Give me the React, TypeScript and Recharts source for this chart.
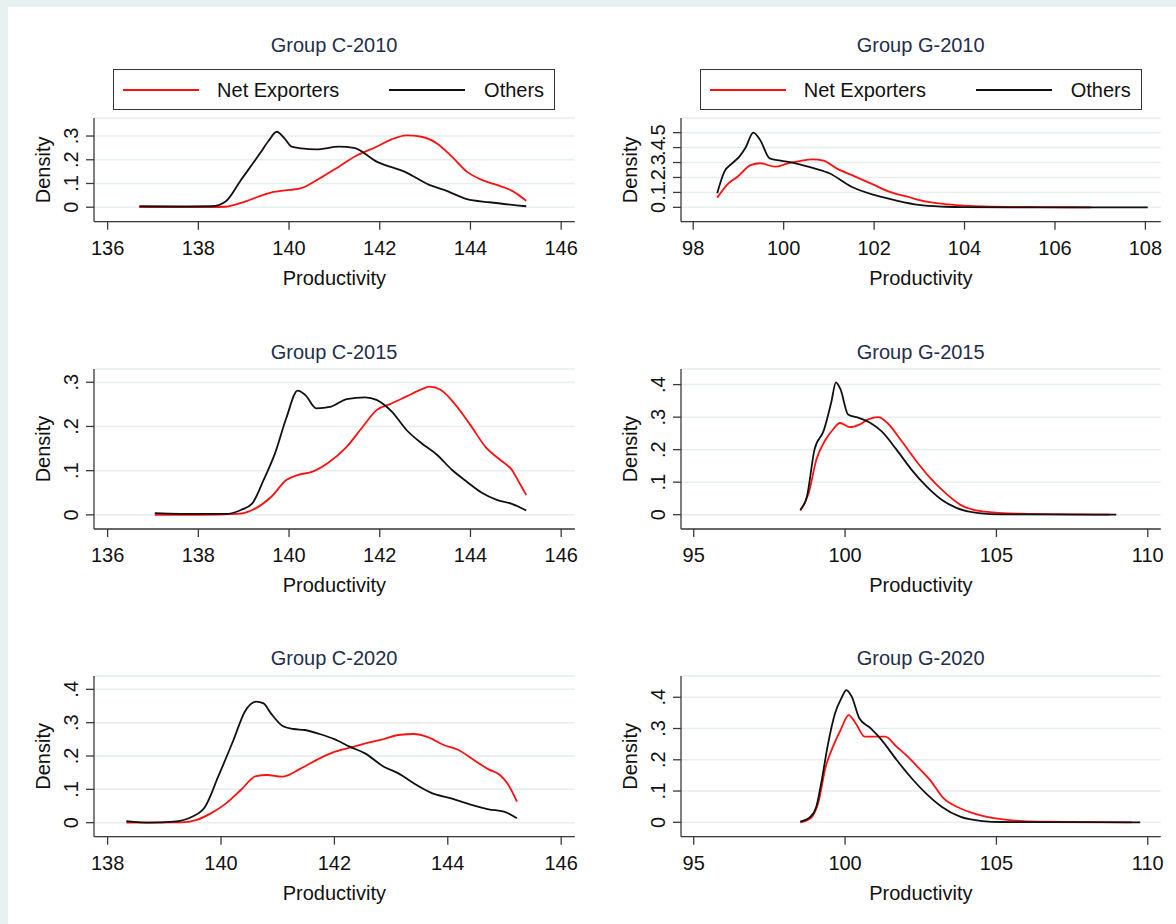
import { LineChart, Line, XAxis, YAxis, CartesianGrid } from "recharts";

type Pt = [number, number];

const FONT = "'Liberation Sans', Arial, Helvetica, sans-serif";
const RED = "#ff1010";
const BLACK = "#111111";
const TITLE_COLOR = "#1f2e4c";
const AXIS_COLOR = "#3a3a3a";
const GRID_COLOR = "#e6eef0";

const SERIES_NAMES = ["Net Exporters", "Others"];

// Group C-2010
const c2010Net: Pt[] = [
  [136.7, 0.001], [137.5, 0.0], [138.3, 0.0], [138.6, 0.002], [139.03, 0.024], [139.6, 0.062],
  [140.02, 0.073], [140.27, 0.08], [140.68, 0.122], [141.1, 0.171], [141.51, 0.22], [141.93, 0.255],
  [142.26, 0.286], [142.59, 0.303], [142.92, 0.297], [143.26, 0.269], [143.59, 0.213], [143.92, 0.15],
  [144.25, 0.115], [144.58, 0.094], [144.91, 0.07], [145.23, 0.027],
];
const c2010Others: Pt[] = [
  [136.7, 0.004], [137.5, 0.003], [138.3, 0.004], [138.6, 0.024], [138.94, 0.115], [139.36, 0.227],
  [139.55, 0.28], [139.73, 0.318], [139.9, 0.29], [140.06, 0.255], [140.27, 0.248], [140.6, 0.244],
  [141.1, 0.255], [141.43, 0.25], [141.93, 0.192], [142.59, 0.146], [143.09, 0.094], [143.42, 0.073],
  [143.92, 0.034], [144.42, 0.021], [145.23, 0.004],
];

// Group G-2010
const g2010Net: Pt[] = [
  [98.53, 0.065], [98.78, 0.161], [98.98, 0.205], [99.27, 0.283], [99.48, 0.295], [99.81, 0.272],
  [100.1, 0.295], [100.35, 0.31], [100.64, 0.321], [100.88, 0.313], [101.17, 0.261], [101.5, 0.217],
  [102.0, 0.15], [102.33, 0.105], [102.74, 0.071], [103.16, 0.038], [103.65, 0.02], [104.4, 0.007],
  [105.64, 0.002], [106.8, 0.0],
];
const g2010Others: Pt[] = [
  [98.53, 0.094], [98.69, 0.239], [98.86, 0.295], [99.02, 0.339], [99.15, 0.395], [99.33, 0.5],
  [99.48, 0.451], [99.69, 0.328], [99.93, 0.313], [100.26, 0.295], [100.68, 0.261], [101.01, 0.228],
  [101.5, 0.138], [102.0, 0.083], [102.5, 0.045], [102.99, 0.016], [103.57, 0.004], [103.98, 0.001],
  [105.0, 0.0], [106.5, 0.0], [108.05, 0.0],
];

// Group C-2015
const c2015Net: Pt[] = [
  [137.04, 0.0], [138.0, 0.0], [138.86, 0.002], [139.19, 0.011], [139.61, 0.041], [139.94, 0.079],
  [140.19, 0.09], [140.52, 0.098], [140.85, 0.117], [141.27, 0.154], [141.6, 0.196], [141.93, 0.237],
  [142.26, 0.252], [142.59, 0.268], [142.92, 0.284], [143.09, 0.29], [143.34, 0.283], [143.67, 0.249],
  [144.0, 0.203], [144.33, 0.154], [144.66, 0.124], [144.91, 0.102], [145.08, 0.072], [145.23, 0.045],
];
const c2015Others: Pt[] = [
  [137.04, 0.004], [138.0, 0.002], [138.6, 0.002], [138.94, 0.011], [139.19, 0.026], [139.44, 0.079],
  [139.69, 0.139], [139.94, 0.219], [140.19, 0.281], [140.36, 0.271], [140.6, 0.241], [140.93, 0.245],
  [141.27, 0.262], [141.68, 0.266], [141.93, 0.26], [142.26, 0.234], [142.59, 0.192], [142.92, 0.162],
  [143.26, 0.136], [143.59, 0.102], [143.92, 0.075], [144.25, 0.05], [144.58, 0.034], [144.91, 0.025],
  [145.23, 0.01],
];

// Group G-2015
const g2015Net: Pt[] = [
  [98.52, 0.013], [98.8, 0.067], [99.05, 0.169], [99.36, 0.231], [99.6, 0.262], [99.83, 0.282],
  [100.16, 0.269], [100.47, 0.277], [100.78, 0.294], [101.09, 0.3], [101.4, 0.282], [101.83, 0.231],
  [102.32, 0.169], [102.81, 0.113], [103.31, 0.067], [103.8, 0.031], [104.54, 0.01], [105.78, 0.003],
  [108.74, 0.0],
];
const g2015Others: Pt[] = [
  [98.52, 0.015], [98.74, 0.056], [98.99, 0.2], [99.3, 0.26], [99.54, 0.344], [99.7, 0.407],
  [99.85, 0.385], [100.1, 0.308], [100.47, 0.297], [100.84, 0.282], [101.21, 0.256], [101.7, 0.2],
  [102.2, 0.138], [102.69, 0.087], [103.19, 0.046], [103.68, 0.021], [104.42, 0.005], [105.16, 0.001],
  [108.96, 0.0],
];

// Group C-2020
const c2020Net: Pt[] = [
  [138.33, 0.0], [139.29, 0.001], [139.56, 0.008], [139.82, 0.028], [140.09, 0.058], [140.35, 0.098],
  [140.62, 0.14], [140.81, 0.143], [141.08, 0.138], [141.41, 0.163], [141.74, 0.193], [142.01, 0.213],
  [142.34, 0.228], [142.6, 0.24], [142.87, 0.251], [143.13, 0.263], [143.4, 0.266], [143.66, 0.256],
  [143.93, 0.233], [144.19, 0.218], [144.46, 0.188], [144.72, 0.16], [144.92, 0.143], [145.05, 0.118],
  [145.22, 0.063],
];
const c2020Others: Pt[] = [
  [138.33, 0.005], [138.76, 0.0], [139.16, 0.003], [139.49, 0.018], [139.72, 0.048], [139.95, 0.138],
  [140.22, 0.248], [140.42, 0.333], [140.62, 0.363], [140.75, 0.358], [140.88, 0.328], [141.08, 0.291],
  [141.28, 0.281], [141.48, 0.278], [141.74, 0.266], [142.01, 0.25], [142.27, 0.228], [142.54, 0.208],
  [142.87, 0.168], [143.13, 0.148], [143.4, 0.118], [143.73, 0.088], [144.06, 0.073], [144.39, 0.055],
  [144.72, 0.04], [144.99, 0.033], [145.22, 0.013],
];

// Group G-2020
const g2020Net: Pt[] = [
  [98.52, 0.0], [98.86, 0.013], [99.11, 0.061], [99.36, 0.178], [99.6, 0.242], [99.85, 0.295],
  [100.12, 0.343], [100.35, 0.317], [100.65, 0.274], [100.96, 0.274], [101.33, 0.274], [101.7, 0.242],
  [102.07, 0.21], [102.44, 0.173], [102.81, 0.135], [103.25, 0.077], [103.8, 0.045], [104.3, 0.027],
  [105.16, 0.01], [106.4, 0.002], [109.48, 0.0],
];
const g2020Others: Pt[] = [
  [98.52, 0.002], [98.86, 0.018], [99.05, 0.05], [99.23, 0.135], [99.42, 0.242], [99.67, 0.349],
  [99.88, 0.397], [100.04, 0.423], [100.22, 0.402], [100.47, 0.333], [100.84, 0.301], [101.21, 0.263],
  [101.7, 0.2], [102.2, 0.141], [102.69, 0.091], [103.19, 0.05], [103.8, 0.018], [104.54, 0.004],
  [105.16, 0.001], [109.75, 0.0],
];

// ticks
const xTicksC = [136, 138, 140, 142, 144, 146];
const xTicksC2020 = [138, 140, 142, 144, 146];
const xTicksG2010 = [98, 100, 102, 104, 106, 108];
const xTicksG = [95, 100, 105, 110];
const yTicks3 = [0, 0.1, 0.2, 0.3];
const yTicks4 = [0, 0.1, 0.2, 0.3, 0.4];
const yTicks5 = [0, 0.1, 0.2, 0.3, 0.4, 0.5];

const toRows = (pts: Pt[]) => pts.map(([x, y]) => ({ x, y }));
const fmtY = (v: number) => (v === 0 ? "0" : String(v).replace(/^0/, ""));

const YW = 80;
const XH = 75;
const MT = 10;
const MR = 24;

const XTick = (props: any) => {
  const { x, y, payload } = props;
  return (
    <text x={x} y={y + 25} textAnchor="middle" fontSize={20} fontFamily={FONT} fill="#111">
      {payload.value}
    </text>
  );
};

const YTick = (props: any) => {
  const { x, y, payload } = props;
  const bx = x - 8;
  return (
    <text
      x={bx}
      y={y}
      transform={`rotate(-90, ${bx}, ${y})`}
      textAnchor="middle"
      fontSize={20}
      fontFamily={FONT}
      fill="#111"
    >
      {fmtY(payload.value)}
    </text>
  );
};

const DensityLabel = (props: any) => {
  const { x, y, width, height } = props.viewBox;
  const cx = x + width - 44;
  const cy = y + height / 2;
  return (
    <text x={cx} y={cy} transform={`rotate(-90, ${cx}, ${cy})`} textAnchor="middle" fontSize={20} fontFamily={FONT} fill="#111">
      Density
    </text>
  );
};

const ProductivityLabel = (props: any) => {
  const { x, y, width } = props.viewBox;
  return (
    <text x={x + width / 2} y={y + 63} textAnchor="middle" fontSize={20} fontFamily={FONT} fill="#111">
      Productivity
    </text>
  );
};

const LegendBox = ({ cx }: { cx: number }) => {
  const w = 442;
  const txt = { position: "absolute" as const, top: 10, fontSize: 20, lineHeight: "20px", color: "#111" };
  const line = (color: string, left: number) => (
    <div style={{ position: "absolute", left, top: 19, width: 76, height: 2, background: color }} />
  );
  return (
    <div
      style={{
        position: "absolute",
        left: cx - w / 2,
        top: 69.3,
        width: w,
        height: 41,
        boxSizing: "border-box",
        border: "1.3px solid #333",
        background: "#fff",
        fontFamily: FONT,
      }}
    >
      {line(RED, 9)}
      <div style={{ ...txt, left: 103 }}>{SERIES_NAMES[0]}</div>
      {line(BLACK, 275)}
      <div style={{ ...txt, left: 370 }}>{SERIES_NAMES[1]}</div>
    </div>
  );
};

type PanelProps = {
  title: string;
  net: Pt[];
  others: Pt[];
  xDomain: [number, number];
  xTicks: number[];
  yDomain: [number, number];
  yTicks: number[];
  left: number;
  top: number;
  w: number;
  h: number;
  titleY: number;
  legend?: boolean;
};

const Panel = ({ title, net, others, xDomain, xTicks, yDomain, yTicks, left, top, w, h, titleY, legend }: PanelProps) => (
  <>
    <div
      style={{
        position: "absolute",
        left,
        width: w,
        top: titleY - 10,
        textAlign: "center",
        fontFamily: FONT,
        fontSize: 20,
        lineHeight: "20px",
        color: TITLE_COLOR,
      }}
    >
      {title}
    </div>
    {legend && <LegendBox cx={left + w / 2} />}
    <div style={{ position: "absolute", left: left - YW, top: top - MT }}>
      <LineChart width={YW + w + MR} height={MT + h + XH} margin={{ top: MT, right: MR, bottom: 0, left: 0 }}>
        <CartesianGrid vertical={false} stroke={GRID_COLOR} strokeWidth={1.5} />
        <XAxis
          type="number"
          dataKey="x"
          domain={xDomain}
          ticks={xTicks}
          interval={0}
          allowDataOverflow
          height={XH}
          tickSize={8}
          tickMargin={0}
          tick={<XTick />}
          axisLine={{ stroke: AXIS_COLOR, strokeWidth: 1.3 }}
          tickLine={{ stroke: AXIS_COLOR, strokeWidth: 1.3 }}
          label={<ProductivityLabel />}
        />
        <YAxis
          type="number"
          domain={yDomain}
          ticks={yTicks}
          interval={0}
          allowDataOverflow
          width={YW}
          tickSize={8}
          tickMargin={0}
          tick={<YTick />}
          axisLine={{ stroke: AXIS_COLOR, strokeWidth: 1.3 }}
          tickLine={{ stroke: AXIS_COLOR, strokeWidth: 1.3 }}
          label={<DensityLabel />}
        />
        <Line
          data={toRows(net)}
          dataKey="y"
          name={SERIES_NAMES[0]}
          type="monotone"
          stroke={RED}
          strokeWidth={1.8}
          dot={false}
          isAnimationActive={false}
        />
        <Line
          data={toRows(others)}
          dataKey="y"
          name={SERIES_NAMES[1]}
          type="monotone"
          stroke={BLACK}
          strokeWidth={1.8}
          dot={false}
          isAnimationActive={false}
        />
      </LineChart>
    </div>
  </>
);

const LX = 93.7;
const LW = 480.8;
const RX = 680.8;
const RW = 479.8;

export default function App() {
  return (
    <div style={{ position: "absolute", left: 0, top: 0, width: 1176, height: 924, background: "#e9f0f2", overflow: "hidden" }}>
      <div style={{ position: "absolute", left: 8, top: 7, right: 0, bottom: 0, background: "#fff" }}>
        <div style={{ position: "absolute", left: -8, top: -7 }}>
          <Panel title="Group C-2010" net={c2010Net} others={c2010Others} xDomain={[135.7, 146.3]} xTicks={xTicksC}
            yDomain={[-0.061, 0.376]} yTicks={yTicks3} left={LX} top={118} w={LW} h={103.7} titleY={44.5} legend />
          <Panel title="Group G-2010" net={g2010Net} others={g2010Others} xDomain={[97.73, 108.34]} xTicks={xTicksG2010}
            yDomain={[-0.096, 0.598]} yTicks={yTicks5} left={RX} top={118} w={RW} h={103.7} titleY={44.5} legend />
          <Panel title="Group C-2015" net={c2015Net} others={c2015Others} xDomain={[135.7, 146.3]} xTicks={xTicksC}
            yDomain={[-0.032, 0.33]} yTicks={yTicks3} left={LX} top={369.3} w={LW} h={160} titleY={351.7} />
          <Panel title="Group G-2015" net={g2015Net} others={g2015Others} xDomain={[94.58, 110.43]} xTicks={xTicksG}
            yDomain={[-0.044, 0.448]} yTicks={yTicks4} left={RX} top={369.3} w={RW} h={160} titleY={351.7} />
          <Panel title="Group C-2020" net={c2020Net} others={c2020Others} xDomain={[137.76, 146.24]} xTicks={xTicksC2020}
            yDomain={[-0.042, 0.44]} yTicks={yTicks4} left={LX} top={676} w={LW} h={160.7} titleY={658.3} />
          <Panel title="Group G-2020" net={g2020Net} others={g2020Others} xDomain={[94.58, 110.43]} xTicks={xTicksG}
            yDomain={[-0.046, 0.468]} yTicks={yTicks4} left={RX} top={676} w={RW} h={160.7} titleY={658.3} />
        </div>
      </div>
    </div>
  );
}
